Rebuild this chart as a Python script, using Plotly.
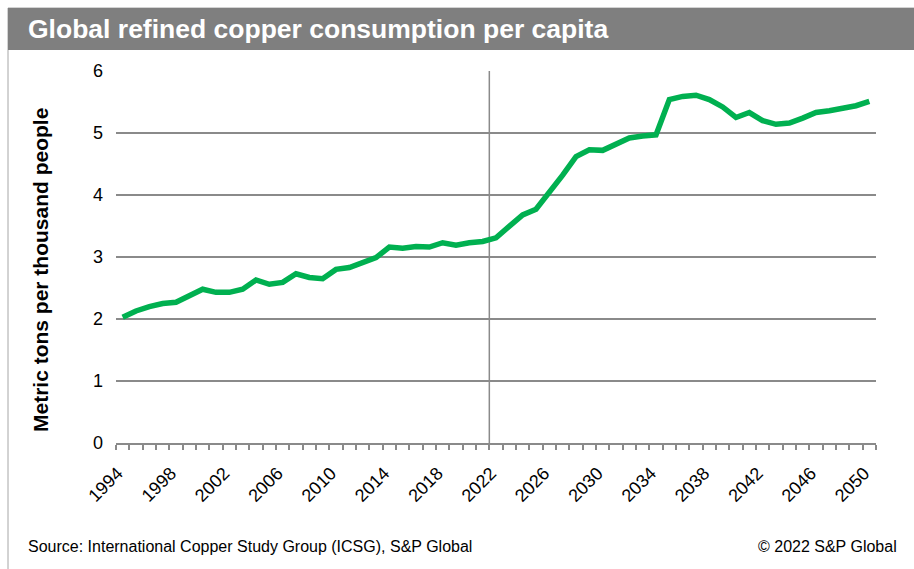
import plotly.graph_objects as go

years = list(range(1994, 2051))
consumption = [
    2.03, 2.13, 2.20, 2.25, 2.27, 2.38, 2.48, 2.43, 2.43, 2.48,   # 1994-2003
    2.63, 2.56, 2.59, 2.73, 2.67, 2.65, 2.80, 2.83, 2.90, 2.99,   # 2004-2013
    3.16, 3.14, 3.17, 3.16, 3.23, 3.19, 3.23, 3.25, 3.31, 3.49,   # 2014-2023
    3.68, 3.77, 4.03, 4.32, 4.62, 4.73, 4.72, 4.83, 4.92, 4.95,   # 2024-2033
    4.97, 5.54, 5.59, 5.61, 5.54, 5.42, 5.25, 5.33, 5.20, 5.14,   # 2034-2043
    5.16, 5.24, 5.33, 5.36, 5.39, 5.44, 5.51,                     # 2044-2050
]
tick_years = list(range(1994, 2051, 4))
tick_labels = [str(y) for y in tick_years]
y_ticks = [0, 1, 2, 3, 4, 5, 6]
divider_year = 2021.5

title_text = "Global refined copper consumption per capita"
y_title = "Metric tons per thousand people"
source_text = "Source: International Copper Study Group (ICSG), S&P Global"
copyright_text = "© 2022 S&P Global"

W, H = 914, 569
L, R, T, B = 116, 876, 71, 443
FONT = "Liberation Sans, Arial, sans-serif"
GRID = "#8a8a8a"

def px(x):
    return (x - L) / (R - L)

def py(y):
    return (B - y) / (B - T)

fig = go.Figure()
fig.add_trace(go.Scatter(
    x=years, y=consumption, mode="lines",
    line=dict(color="#00B050", width=5.5),
    hoverinfo="x+y", showlegend=False,
))

fig.update_layout(
    width=W, height=H,
    margin=dict(l=L, r=W - R, t=T, b=H - B, autoexpand=False),
    paper_bgcolor="white", plot_bgcolor="white",
    font=dict(family=FONT, color="black"),
    xaxis=dict(
        range=[1993.5, 2050.5], tickmode="array", tickvals=tick_years, ticktext=tick_labels,
        tickangle=-45, tickfont=dict(size=18, family=FONT, color="black"),
        ticks="outside", ticklen=5, tickcolor="rgba(0,0,0,0)",
        ticklabelstandoff=6, ticklabelshift=-5,
        showgrid=False, zeroline=False,
        showline=True, linecolor=GRID, linewidth=1.5,
        minor=dict(tickmode="array", tickvals=[1993.5 + i for i in range(58)],
                   ticks="outside", ticklen=5, tickcolor=GRID, tickwidth=1.5, showgrid=False),
    ),
    yaxis=dict(
        range=[0, 6], tickmode="array", tickvals=y_ticks,
        tickfont=dict(size=18, family=FONT, color="black"),
        showgrid=True, gridcolor=GRID, gridwidth=1.5,
        zeroline=False, showline=False, ticks="", ticklabelstandoff=12,
    ),
    shapes=[
        dict(type="rect", xref="paper", yref="paper",
             x0=px(8), x1=px(920), y0=py(580), y1=py(8),
             line=dict(color="#a6a6a6", width=1), fillcolor="rgba(0,0,0,0)", layer="below"),
        dict(type="rect", xref="paper", yref="paper",
             x0=px(8), x1=px(920), y0=py(50), y1=py(8),
             line=dict(width=0), fillcolor="#7f7f7f", layer="below"),
        dict(type="line", xref="x", yref="paper",
             x0=divider_year, x1=divider_year, y0=0, y1=1,
             line=dict(color=GRID, width=1.5), layer="below"),
    ],
    annotations=[
        dict(text="<b>" + title_text + "</b>", xref="paper", yref="paper",
             x=px(26), y=py(29), xanchor="left", yanchor="middle", showarrow=False,
             font=dict(size=26.5, color="white", family=FONT)),
        dict(text="<b>" + y_title + "</b>", xref="paper", yref="paper",
             x=px(40), y=py(270), xanchor="center", yanchor="middle", showarrow=False,
             textangle=-90, font=dict(size=21, color="black", family=FONT)),
        dict(text=source_text, xref="paper", yref="paper",
             x=px(26), y=py(546), xanchor="left", yanchor="middle", showarrow=False,
             font=dict(size=16, color="black", family=FONT)),
        dict(text=copyright_text, xref="paper", yref="paper",
             x=px(899), y=py(546), xanchor="right", yanchor="middle", showarrow=False,
             font=dict(size=16, color="black", family=FONT)),
    ],
)

fig.write_html(
    "out.html",
    config={"displayModeBar": False},
    post_script="document.body.style.margin='0';document.body.style.padding='0';",
)
